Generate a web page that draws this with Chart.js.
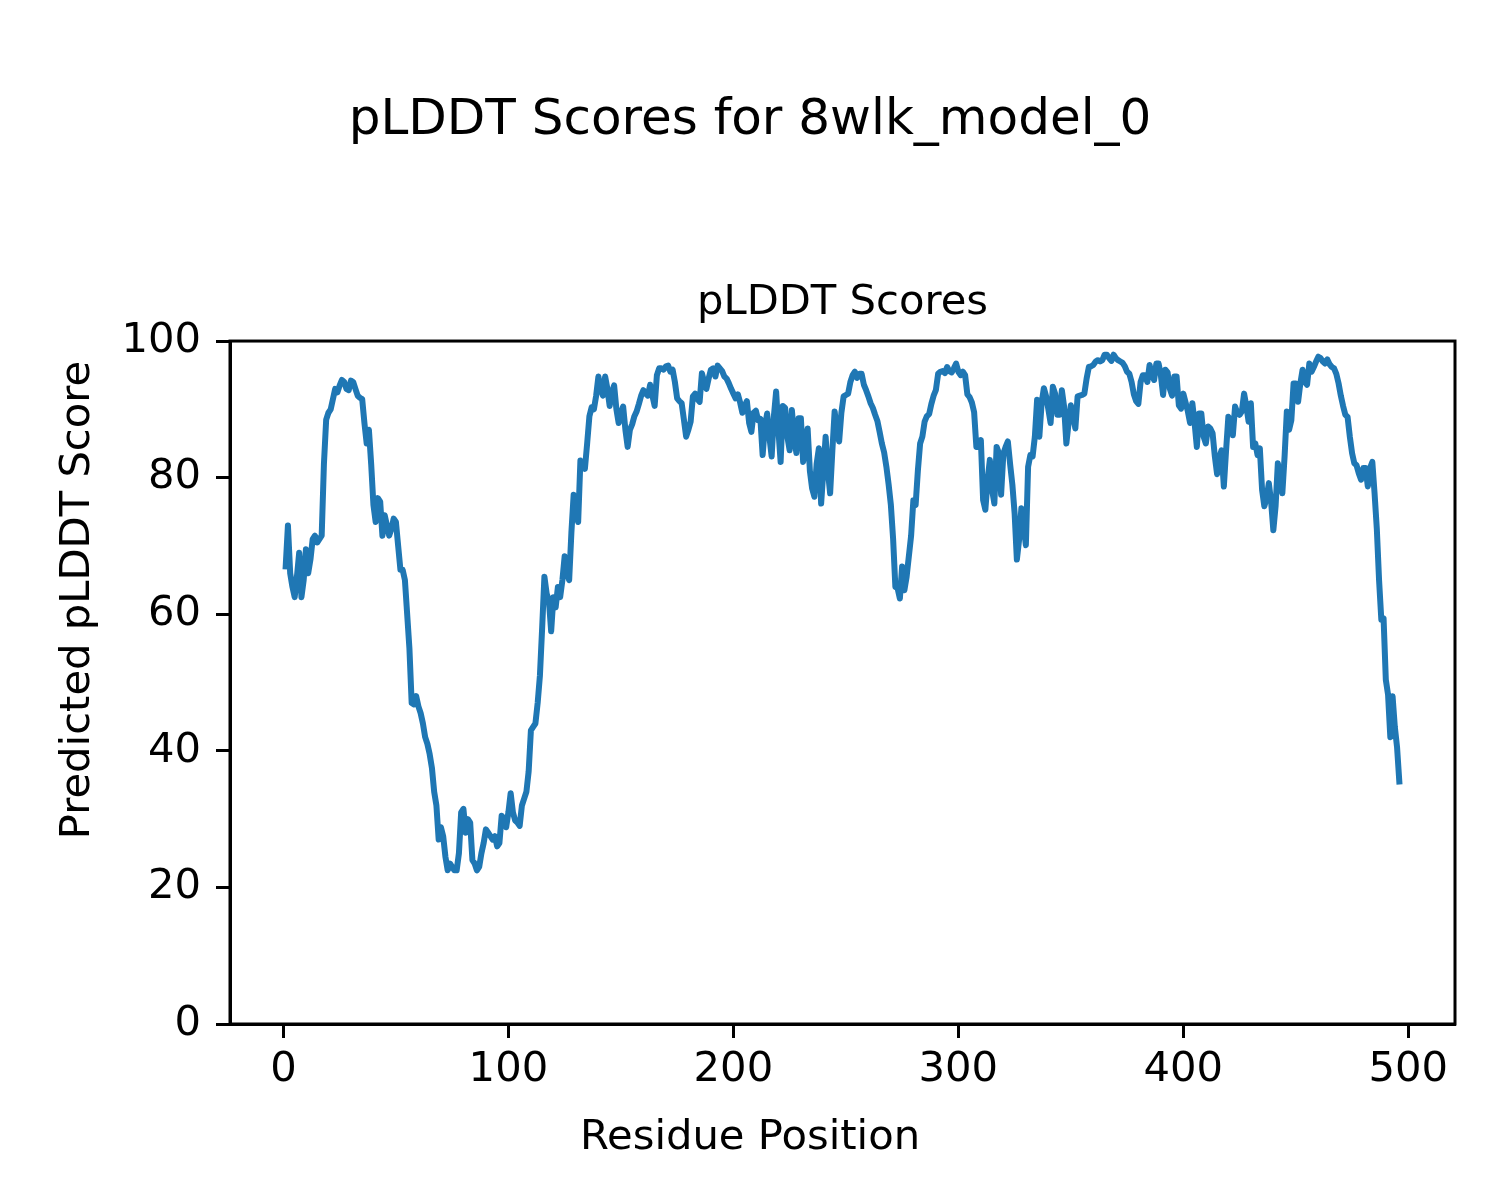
<!DOCTYPE html>
<html>
<head>
<meta charset="utf-8">
<script src="https://cdn.jsdelivr.net/npm/chart.js@4.4.1/dist/chart.umd.min.js"></script>
<style>
  html, body { margin: 0; padding: 0; background: #ffffff; }
  #wrap { width: 1500px; height: 1200px; }
</style>
</head>
<body>
<div id="wrap"><canvas id="c" width="1500" height="1200"></canvas></div>
<script>
// ---- data ----
const figureTitle = "pLDDT Scores for 8wlk_model_0";
const axesTitle = "pLDDT Scores";
const xAxisLabel = "Residue Position";
const yAxisLabel = "Predicted pLDDT Score";
const firstResidue = 1;
const xTicks = [0, 100, 200, 300, 400, 500];
const yTicks = [0, 20, 40, 60, 80, 100];

const plddt = [
  67, 73, 66, 64, 62.5, 65.5, 69, 62.5, 65, 69.5,
  66, 68, 71, 71.5, 70.5, 71, 71.5, 82, 88.5, 89.5,
  90, 91.5, 93, 92.5, 93.5, 94.3, 94, 93, 92.8, 94.2,
  94, 93, 92, 91.7, 91.5, 88, 85, 87, 82, 76,
  73.5, 77, 76.5, 71.5, 74.5, 73, 71.5, 72.5, 74, 73.5,
  70, 66.5, 66.5, 65, 60, 55, 47, 46.8, 48, 46.5,
  45.5, 44, 42, 41, 39.5, 37.5, 34, 32, 27, 28.8,
  27.5, 24.5, 22.5, 23.5, 23, 22.5, 22.5, 25, 31, 31.5,
  28, 30, 29.5, 24, 23.5,
  22.5, 23, 25, 26.5, 28.5,
  28, 27.5, 27, 27.5, 26, 26.5, 30.5, 30, 28.8, 31,
  33.8, 31, 29.8, 29.5, 29, 32, 33, 34, 37, 43,
  43.5, 44, 47, 51, 58, 65.5, 63, 62, 57.5, 62.5,
  61, 64, 62.5, 65, 68.5, 66, 65, 72, 77.5, 75,
  73.5, 82.5, 82, 81.3, 85, 89, 90.3, 90, 92, 94.8,
  93, 92, 94.8, 93, 90.5, 92.5, 93.5, 90, 88, 89.5,
  90.4, 87, 84.5, 87, 87.8, 89, 89.7, 90.8, 92, 92.8,
  92.3, 92, 93.6, 92, 90.5, 95, 96, 96, 95.8,
  96.3, 96.4, 95.5, 95.8, 94, 91.6, 91.2, 90.9, 88.5, 86, 87,
  88.2, 91.9, 92.3, 91.5, 91.1, 95.3, 94, 93, 94.5, 95.8,
  96, 94.8, 96.4, 96, 95.6, 94.8, 94.5, 93.8, 93, 92.3,
  91.6, 92.2, 91, 89.5, 90.5, 91.2, 88, 86.7, 89.5, 89.8,
  88.4, 88.6, 83.3, 87.5, 89.4, 86, 83.1, 89, 92.6, 87,
  82.3, 90.5, 90.2, 86, 84, 89.9, 86, 83.6, 88.7, 88.7,
  82.3, 84.5, 87.2, 81, 78.4, 77.2, 82, 84.3, 76.2, 81,
  86, 81, 77.7, 84, 89.7, 87, 85.3, 89.5, 91.9, 92.1,
  92.3, 94, 95,
  95.5, 94.6, 95.2, 95.2, 93.6, 92.8, 91.9,
  90.9, 90.2, 89.2, 88.3, 86.7, 85, 83.7, 81.6, 79, 76,
  71, 64, 63.8, 62.3, 67, 63.5, 65.5, 68.5, 71.5, 76.7,
  76, 81, 85, 86, 88.2, 89, 89.3, 90.8, 92, 92.8,
  95.2, 95.5, 95.6, 95.3, 96.2, 95.6, 95.4, 96, 96.7, 95.5,
  95, 95.5, 95, 92.2, 91.8, 91, 89.6, 84.5, 84.5, 85.5,
  76.7, 75.3, 79.7, 82.6, 78.2, 76.2, 84.5, 83.6, 77.5, 83.5,
  84.5, 85.3, 82, 79, 74.8, 68, 70.9, 75.5, 73, 70.1,
  81.6, 83.3, 83.1, 86, 91.4, 86, 90.9,
  93.1, 91.9, 90,
  88, 93.3, 92.3, 89.2, 89.2, 92.8, 90.4, 85, 88, 90.6,
  89, 87.2, 91.9, 92, 92.1, 92.3, 94.5, 96.2, 96.3, 96.5,
  97, 97.2, 97, 97.2, 98, 98, 97.5, 97.1, 98, 97.5,
  97.2, 97, 96.8, 96.3, 95.5, 95.2, 94, 92.2, 91.2, 90.8,
  94, 95, 95, 94, 96.5, 95, 94.3, 96.7, 96.7, 95,
  92.1, 95.8, 95.4, 93, 92, 94.8, 94.8, 90.6, 90.1, 92.3,
  91, 89.7, 88, 90.9, 88, 84.5, 89.4, 89.4, 86, 85,
  87.5, 87.2, 86.5, 83.1, 80.5, 83, 84, 78.7, 84, 88.9,
  88.5, 86.2, 90.4,
  89.5, 89.2, 89.7, 92.3, 90.5, 88.2, 90.9,
  84.5, 85, 83.3, 84.3, 78.2, 75.8, 77, 79.2, 76.5, 72.3,
  75.8, 82.1, 80.1, 77.7, 83.1, 89.7, 87, 88.4, 93.8, 93.8,
  91.1, 93.8, 95.8, 94, 93.6, 96.7, 95.5, 96.2, 97, 97.7,
  97.5, 97, 96.7, 97.3, 96.6, 96.2, 96, 95.2, 93.8, 92,
  90.5, 89.2, 88.9, 86, 83.6, 82.1, 81.8, 80.6, 79.7, 81.4,
  81.4, 78.7, 81.4, 82.3, 77.7, 72.5, 65, 59.2, 59.4, 50.4,
  48.2, 42, 48, 43.5, 40.5, 35.5
];

// ---- chart ----
const points = plddt.map((v, i) => ({ x: firstResidue + i, y: v }));
const lastResidue = firstResidue + plddt.length - 1;
const xMargin = 0.05 * (lastResidue - firstResidue);

const FONT = "'DejaVu Sans', 'Liberation Sans', sans-serif";
Chart.defaults.font.family = FONT;
Chart.defaults.color = '#000000';

const framePlugin = {
  id: 'frame',
  afterDatasetsDraw(chart) {
    const a = chart.chartArea;
    const ctx = chart.ctx;
    ctx.save();
    ctx.strokeStyle = '#000000';
    ctx.lineWidth = 3;
    ctx.strokeRect(a.left, a.top, a.right - a.left, a.bottom - a.top);
    ctx.restore();
  }
};

const labelFont = { family: FONT, size: 41.7, lineHeight: 1.2 };
const hiddenParts = {
  ticks: { display: false },
  grid: { display: false },
  border: { display: false }
};

new Chart(document.getElementById('c'), {
  type: 'line',
  data: {
    datasets: [{
      data: points,
      xAxisID: 'x',
      yAxisID: 'y',
      borderColor: '#1f77b4',
      borderWidth: 6,
      pointRadius: 0,
      pointHoverRadius: 0,
      tension: 0,
      fill: false,
      borderCapStyle: 'square',
      borderJoinStyle: 'round'
    }]
  },
  options: {
    responsive: false,
    animation: false,
    devicePixelRatio: 1,
    events: [],
    layout: { padding: 0 },
    plugins: {
      legend: { display: false },
      tooltip: { enabled: false },
      title: {
        display: true,
        fullSize: true,
        text: figureTitle,
        color: '#000',
        font: { family: FONT, size: 50, weight: 'normal', lineHeight: 1.2 },
        padding: { top: 91, bottom: 127.6 }
      },
      subtitle: {
        display: true,
        fullSize: false,
        text: axesTitle,
        color: '#000',
        font: { family: FONT, size: 41.7, weight: 'normal', lineHeight: 1.2 },
        padding: { top: 0, bottom: 12.4 }
      }
    },
    scales: {
      x: {
        type: 'linear',
        position: 'bottom',
        weight: 0,
        min: firstResidue - xMargin,
        max: lastResidue + xMargin,
        afterBuildTicks: (s) => { s.ticks = xTicks.map(v => ({ value: v })); },
        afterFit: (s) => { s.height = 76; },
        ticks: {
          color: '#000',
          font: labelFont,
          padding: 7,
          maxRotation: 0,
          autoSkip: false
        },
        grid: {
          display: true,
          drawOnChartArea: false,
          drawTicks: true,
          tickLength: 14,
          tickWidth: 3,
          tickColor: '#000'
        },
        border: { display: true, color: '#000', width: 3 },
        title: { display: false }
      },
      y: {
        type: 'linear',
        position: 'left',
        weight: 0,
        min: 0,
        max: 100,
        afterBuildTicks: (s) => { s.ticks = yTicks.map(v => ({ value: v })); },
        afterFit: (s) => { s.width = 120; },
        ticks: {
          color: '#000',
          font: labelFont,
          padding: 15,
          autoSkip: false
        },
        grid: {
          display: true,
          drawOnChartArea: false,
          drawTicks: true,
          tickLength: 14,
          tickWidth: 3,
          tickColor: '#000'
        },
        border: { display: true, color: '#000', width: 3 },
        title: { display: false }
      },
      // figure-level x label (centred on the whole figure width)
      xFigLabel: {
        type: 'linear',
        axis: 'x',
        position: 'bottom',
        fullSize: true,
        weight: 10,
        min: 0,
        max: 1,
        afterFit: (s) => { s.height = 100; },
        ...hiddenParts,
        title: {
          display: true,
          text: xAxisLabel,
          color: '#000',
          font: labelFont,
          padding: { top: 0, bottom: 36.4 }
        }
      },
      // figure-level y label (centred on the whole figure height)
      yFigLabel: {
        type: 'linear',
        axis: 'y',
        position: 'left',
        fullSize: true,
        weight: 10,
        min: 0,
        max: 1,
        afterFit: (s) => { s.width = 110; },
        ...hiddenParts,
        title: {
          display: true,
          text: yAxisLabel,
          color: '#000',
          font: labelFont,
          padding: { top: 53.6, bottom: 0 }
        }
      },
      // right-side spacer (figure margin)
      yRightSpace: {
        type: 'linear',
        axis: 'y',
        position: 'right',
        weight: 10,
        min: 0,
        max: 1,
        afterFit: (s) => { s.width = 45; },
        ...hiddenParts,
        title: { display: false }
      }
    }
  },
  plugins: [framePlugin]
});
</script>
</body>
</html>
